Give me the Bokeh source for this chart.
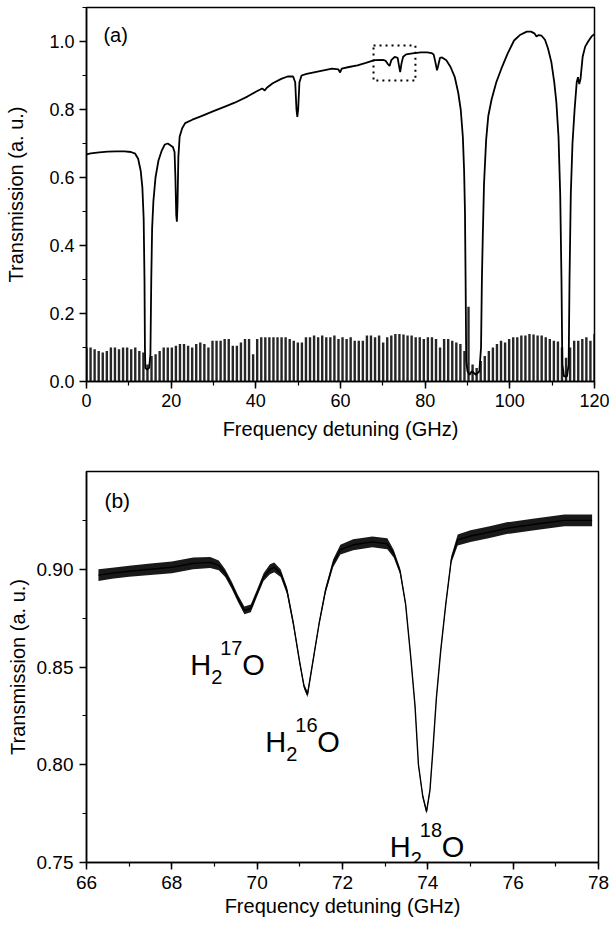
from bokeh.plotting import figure
from bokeh.layouts import column
from bokeh.models import (Range1d, SingleIntervalTicker, BoxAnnotation, Label,
                          ColumnDataSource, NumeralTickFormatter)
from bokeh.embed import file_html
from bokeh.resources import INLINE

# ---------------- data: panel (a) ----------------
freq_a = [0.0, 1, 3, 5, 7, 9, 10.5, 11.5, 12.2, 12.8, 13.2, 13.5, 13.7, 13.8, 13.9, 14.3, 14.8,
          15.1, 15.3, 15.5, 15.8, 16.3, 17.0, 17.8, 18.5, 19.2, 19.8, 20.4, 20.8, 21.0, 21.2,
          21.35, 21.5, 21.7, 22.0, 22.6, 23.3, 25, 27, 30, 33, 35, 38, 40, 41.5, 42.1, 42.6,
          44, 46, 47.5, 48.8, 49.3, 49.6, 49.8, 50.0, 50.3, 50.8, 52, 54, 56, 58, 59.5, 59.9,
          60.3, 62, 64, 66, 68, 70.0, 70.6, 71.1, 71.6, 72.0, 72.8, 73.5, 73.8, 74.1, 74.4,
          74.8, 75.5, 77, 79, 80.5, 81.5, 82.0, 82.4, 82.8, 83.1, 83.5, 84.0, 85.0, 86.0,
          87.0, 87.8, 88.4, 88.9, 89.2, 89.4, 89.55, 89.7, 90.0, 90.5, 91.0, 92.0, 92.8,
          93.2, 93.4, 93.6, 93.9, 94.4, 94.9, 95.7, 96.8, 98.0, 99.5, 101.0, 102.5, 104.0,
          105.0, 105.8, 106.3, 106.8, 107.5, 108.3, 109.0, 109.8, 110.5, 111.0, 111.5,
          111.9, 112.2, 112.4, 112.8, 113.5, 113.9, 114.1, 114.4, 114.8, 115.3, 115.8,
          116.1, 116.4, 116.7, 117.2, 117.8, 118.5, 119.3, 119.8, 120.0]
trans_a = [0.668, 0.671, 0.674, 0.676, 0.677, 0.677, 0.675, 0.670, 0.655, 0.62, 0.57, 0.48, 0.30,
           0.10, 0.04, 0.035, 0.04, 0.08, 0.30, 0.45, 0.53, 0.60, 0.65, 0.68, 0.697, 0.700,
           0.695, 0.690, 0.675, 0.60, 0.49, 0.47, 0.52, 0.66, 0.72, 0.745, 0.76, 0.77, 0.78,
           0.795, 0.81, 0.82, 0.838, 0.852, 0.862, 0.856, 0.864, 0.877, 0.890, 0.897, 0.897,
           0.88, 0.80, 0.778, 0.80, 0.88, 0.90, 0.905, 0.91, 0.915, 0.92, 0.918, 0.909, 0.92,
           0.925, 0.93, 0.937, 0.945, 0.946, 0.944, 0.935, 0.928, 0.945, 0.955, 0.952, 0.93,
           0.91, 0.935, 0.955, 0.962, 0.965, 0.968, 0.968, 0.966, 0.962, 0.94, 0.915, 0.93,
           0.952, 0.953, 0.945, 0.925, 0.895, 0.85, 0.80, 0.72, 0.62, 0.50, 0.30, 0.06, 0.03,
           0.02, 0.03, 0.02, 0.03, 0.10, 0.30, 0.42, 0.58, 0.71, 0.78, 0.83, 0.88, 0.92,
           0.965, 1.003, 1.02, 1.029, 1.029, 1.024, 1.015, 1.019, 1.017, 1.005, 0.98, 0.94,
           0.88, 0.82, 0.72, 0.55, 0.30, 0.05, 0.015, 0.015, 0.05, 0.30, 0.55, 0.70, 0.80,
           0.88, 0.895, 0.875, 0.89, 0.955, 0.985, 1.0, 1.015, 1.02, 1.02]

# Fabry-Perot marker comb (peak heights), one peak per free spectral range
comb_start = 0.0
comb_fsr = 0.96
comb_heights = [0.10, 0.10, 0.095, 0.09, 0.085, 0.09, 0.10, 0.10, 0.095, 0.10,
                0.10, 0.095, 0.10, 0.09, 0.085, 0.05, 0.075, 0.08, 0.09, 0.10,
                0.10, 0.10, 0.105, 0.11, 0.11, 0.105, 0.10, 0.11, 0.115, 0.11,
                0.10, 0.12, 0.12, 0.12, 0.125, 0.125, 0.105, 0.105, 0.115, 0.125,
                0.125, 0.08, 0.125, 0.13, 0.13, 0.13, 0.13, 0.13, 0.13, 0.13,
                0.125, 0.12, 0.115, 0.115, 0.13, 0.13, 0.135, 0.13, 0.135, 0.13,
                0.13, 0.135, 0.125, 0.13, 0.125, 0.13, 0.12, 0.12, 0.12, 0.135,
                0.135, 0.13, 0.135, 0.115, 0.13, 0.135, 0.14, 0.14, 0.138, 0.135,
                0.135, 0.13, 0.13, 0.125, 0.13, 0.13, 0.125, 0.10, 0.125, 0.125,
                0.12, 0.115, 0.11, 0.09, 0.22, 0.05, 0.04, 0.06, 0.075, 0.09,
                0.10, 0.11, 0.12, 0.115, 0.125, 0.13, 0.13, 0.135, 0.135, 0.14,
                0.138, 0.135, 0.135, 0.13, 0.125, 0.12, 0.118, 0.10, 0.07, 0.10,
                0.12, 0.12, 0.125, 0.13, 0.12, 0.14]

# ---------------- data: panel (b) ----------------
freq_b = [66.28, 66.6, 67.0, 67.5, 68.0, 68.5, 68.9, 69.1, 69.25, 69.4, 69.55, 69.7, 69.85,
          70.0, 70.15, 70.3, 70.4, 70.55, 70.7, 70.85, 71.0, 71.1, 71.18, 71.3, 71.45, 71.6,
          71.78, 71.95, 72.25, 72.7, 73.05, 73.2, 73.35, 73.48, 73.6, 73.7, 73.78, 73.88,
          73.97, 74.05, 74.12, 74.2, 74.3, 74.42, 74.55, 74.7, 75.0, 75.45, 75.85, 76.5,
          77.2, 77.85]
trans_b = [0.897, 0.898, 0.899, 0.900, 0.901, 0.903, 0.9035, 0.902, 0.898, 0.892, 0.885,
           0.879, 0.880, 0.888, 0.896, 0.900, 0.901, 0.898, 0.889, 0.872, 0.852, 0.840,
           0.836, 0.852, 0.872, 0.889, 0.903, 0.910, 0.9125, 0.914, 0.913, 0.908, 0.899,
           0.882, 0.855, 0.830, 0.800, 0.784, 0.776, 0.787, 0.808, 0.834, 0.858, 0.882,
           0.905, 0.915, 0.917, 0.919, 0.921, 0.923, 0.925, 0.925]
noise_b = [0.003, 0.0028, 0.0028, 0.003, 0.003, 0.003, 0.0028, 0.0025, 0.002, 0.0018, 0.0018,
           0.002, 0.002, 0.0018, 0.002, 0.0025, 0.0025, 0.002, 0.0018, 0.0015, 0.0012, 0.0012,
           0.0015, 0.0012, 0.0012, 0.0015, 0.002, 0.0025, 0.0028, 0.0028, 0.0028, 0.002,
           0.0015, 0.001, 0.001, 0.001, 0.001, 0.001, 0.0012, 0.001, 0.001, 0.001, 0.001,
           0.001, 0.0018, 0.0028, 0.003, 0.003, 0.003, 0.003, 0.003, 0.003]

isotopes = ["17", "16", "18"]

FONT = "Liberation Sans"


def style(p, tick_fs, label_fs, tick_std, lab_std_x, lab_std_y):
    p.outline_line_color = "black"
    p.outline_line_width = 1.5
    p.outline_line_alpha = 1.0
    p.grid.visible = False
    p.background_fill_color = "white"
    p.border_fill_color = "white"
    for ax in p.axis:
        ax.axis_line_width = 1.5
        ax.axis_line_color = "black"
        ax.major_tick_out = 7
        ax.major_tick_in = 0
        ax.minor_tick_out = 4
        ax.minor_tick_in = 0
        ax.major_tick_line_width = 1.5
        ax.minor_tick_line_width = 1.2
        ax.major_label_text_font = FONT
        ax.major_label_text_font_size = f"{tick_fs}px"
        ax.major_label_text_color = "black"
        ax.axis_label_text_font = FONT
        ax.axis_label_text_font_size = f"{label_fs}px"
        ax.axis_label_text_font_style = "normal"
        ax.axis_label_text_color = "black"
        ax.major_label_standoff = tick_std
    p.xaxis.axis_label_standoff = lab_std_x
    p.yaxis.axis_label_standoff = lab_std_y


# ---------------- panel (a) ----------------
p1 = figure(frame_width=508, frame_height=374, x_range=Range1d(0, 120), y_range=Range1d(0, 1.1),
            output_backend="svg", toolbar_location=None,
            min_border_left=85, min_border_right=16, min_border_top=7, min_border_bottom=63)
p1.xaxis.ticker = SingleIntervalTicker(interval=20, num_minor_ticks=2)
p1.yaxis.ticker = SingleIntervalTicker(interval=0.2, num_minor_ticks=2)
p1.yaxis.formatter = NumeralTickFormatter(format="0.0")
p1.xaxis.axis_label = "Frequency detuning (GHz)"
p1.yaxis.axis_label = "Transmission (a. u.)"
style(p1, 18, 20, 5, 8, 19)

comb_x = [comb_start + comb_fsr * i for i in range(len(comb_heights))]
comb_src = ColumnDataSource(dict(x=comb_x, y0=[0.0] * len(comb_x), y1=comb_heights))
p1.segment(x0="x", y0="y0", x1="x", y1="y1", source=comb_src,
           line_color="#000000", line_width=2.4, line_alpha=0.85)
p1.line(freq_a, trans_a, line_color="black", line_width=1.8)
p1.add_layout(BoxAnnotation(left=67.8, right=77.7, bottom=0.885, top=0.988,
                            fill_alpha=0, line_color="black", line_alpha=1.0, line_width=2,
                            line_dash="2 4"))
p1.add_layout(Label(x=4.0, y=1.018, text="(a)", text_baseline="middle", text_align="left",
                    text_font=FONT, text_font_size="20px", text_color="black"))

# ---------------- panel (b) ----------------
p2 = figure(frame_width=512, frame_height=391, x_range=Range1d(66, 78), y_range=Range1d(0.75, 0.95),
            output_backend="svg", toolbar_location=None,
            min_border_left=86, min_border_right=11, min_border_top=27, min_border_bottom=68)
p2.xaxis.ticker = SingleIntervalTicker(interval=2, num_minor_ticks=2)
p2.yaxis.ticker = SingleIntervalTicker(interval=0.05, num_minor_ticks=2)
p2.yaxis.formatter = NumeralTickFormatter(format="0.00")
p2.xaxis.axis_label = "Frequency detuning (GHz)"
p2.yaxis.axis_label = "Transmission (a. u.)"
style(p2, 19, 20, 6, 3, 5)

lo = [t - n for t, n in zip(trans_b, noise_b)]
hi = [t + n for t, n in zip(trans_b, noise_b)]
p2.varea(x=freq_b, y1=lo, y2=hi, fill_color="black", fill_alpha=0.9)
p2.line(freq_b, trans_b, line_color="black", line_width=1.4)

p2.add_layout(Label(x=66.42, y=0.935, text="(b)", text_baseline="middle", text_align="left",
                    text_font=FONT, text_font_size="21px", text_color="black"))

iso_x = [68.43, 70.19, 73.11]
iso_y = [0.8508, 0.8114, 0.7577]
for name, lx, ly in zip(isotopes, iso_x, iso_y):
    for txt, dx, dy, fs in [("H", 0, 0, 29), ("2", 21, -12, 20), (name, 30, 17, 20), ("O", 52, 0, 29)]:
        p2.add_layout(Label(x=lx, y=ly, x_offset=dx, y_offset=dy, text=txt,
                            text_baseline="alphabetic", text_align="left",
                            text_font=FONT, text_font_size=f"{fs}px", text_color="black"))

layout = column(p1, p2, spacing=0)
open("out.html", "w").write(file_html(layout, INLINE))
